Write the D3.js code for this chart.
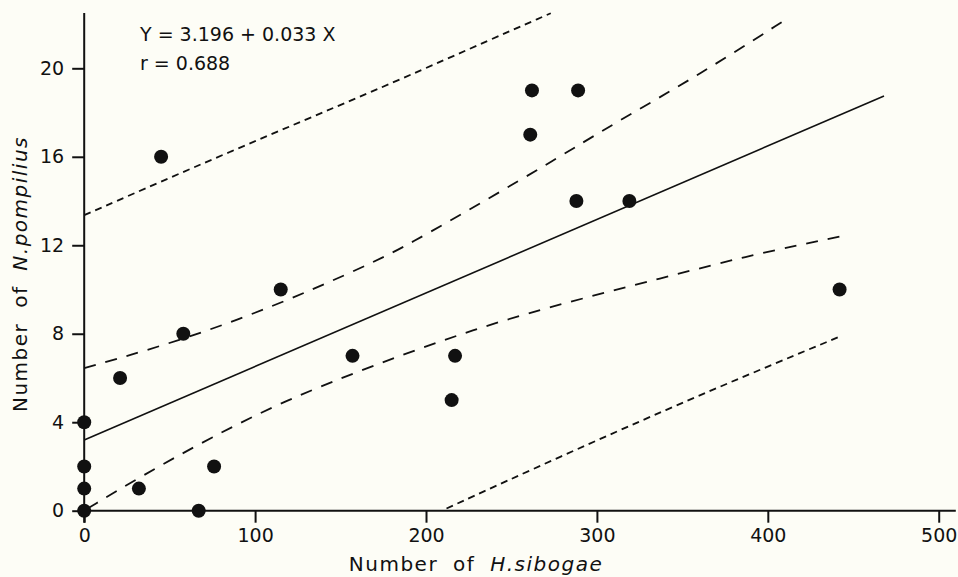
<!DOCTYPE html>
<html>
<head>
<meta charset="utf-8">
<script src="https://cdn.jsdelivr.net/npm/d3@7"></script>
<style>
  body { margin: 0; background: #fdfdf6; }
  svg { display: block; }
  text { font-family: "DejaVu Sans", sans-serif; fill: #111; }
  .tick line { stroke: #111; stroke-width: 2; }
  .tick text { font-size: 19px; }
</style>
</head>
<body>
<svg width="958" height="577"></svg>
<script>
// scatter points: number of H. sibogae vs number of N. pompilius
var sibogae   = [0, 0, 0, 0, 67, 32, 76, 21, 58, 45, 115, 157, 215, 217, 261, 262, 289, 288, 319, 442];
var pompilius = [0, 1, 2, 4, 0, 1, 2, 6, 8, 16, 10, 7, 5, 7, 17, 19, 19, 14, 14, 10];

// fitted line end points
var fitX = [0, 468];
var fitY = [3.2, 18.75];

// confidence band (long dashes)
var confUpX = [0, 46, 91, 134, 171, 189, 232, 275, 310, 345, 376, 410];
var confUpY = [6.45, 7.45, 8.65, 10.0, 11.3, 12.0, 13.9, 15.85, 17.5, 19.05, 20.5, 22.18];
var confLoX = [2, 33, 75, 118, 167, 220, 271, 340, 390, 442];
var confLoY = [0.1, 1.54, 3.35, 5.0, 6.5, 8.0, 9.2, 10.55, 11.56, 12.39];

// prediction band (short dashes)
var predUpX = [0, 85, 171, 224, 273];
var predUpY = [13.36, 16.23, 19.02, 20.83, 22.49];
var predLoX = [212, 280, 343, 390, 443];
var predLoY = [0.1, 2.5, 4.65, 6.2, 7.9];

var xTicks = [0, 100, 200, 300, 400, 500];
var yTicks = [0, 4, 8, 12, 16, 20];

var svg = d3.select("svg");

// scales
var x = d3.scaleLinear().domain([0, 510]).range([84.2, 955.8]);
var y = d3.scaleLinear().domain([0, 22.5]).range([510.7, 13]);

function pairs(xs, ys) {
  return xs.map(function(d, i) { return [d, ys[i]]; });
}

var line = d3.line()
  .x(function(d) { return x(d[0]); })
  .y(function(d) { return y(d[1]); });

var band = d3.line()
  .x(function(d) { return x(d[0]); })
  .y(function(d) { return y(d[1]); })
  .curve(d3.curveBasis);

// axes
svg.append("g").attr("transform", "translate(" + x(0) + ",0)")
  .call(d3.axisLeft(y).tickValues(yTicks).tickSize(12).tickPadding(8))
  .call(function(g) { g.select(".domain").remove(); });

svg.append("g").attr("transform", "translate(0," + y(0) + ")")
  .call(d3.axisBottom(x).tickValues(xTicks).tickSize(12).tickPadding(6))
  .call(function(g) { g.select(".domain").remove(); });

svg.append("line")
  .attr("x1", x(0)).attr("x2", x(0)).attr("y1", y(22.5)).attr("y2", y(0) + 12)
  .attr("stroke", "#111").attr("stroke-width", 2);
svg.append("line")
  .attr("x1", x(0) - 1).attr("x2", x(510)).attr("y1", y(0)).attr("y2", y(0))
  .attr("stroke", "#111").attr("stroke-width", 2);

// bands
[[confUpX, confUpY], [confLoX, confLoY]].forEach(function(b) {
  svg.append("path").datum(pairs(b[0], b[1]))
    .attr("d", band).attr("fill", "none")
    .attr("stroke", "#111").attr("stroke-width", 1.8)
    .attr("stroke-dasharray", "12,10");
});
[[predUpX, predUpY], [predLoX, predLoY]].forEach(function(b) {
  svg.append("path").datum(pairs(b[0], b[1]))
    .attr("d", band).attr("fill", "none")
    .attr("stroke", "#111").attr("stroke-width", 1.8)
    .attr("stroke-dasharray", "7,5");
});

// regression line
svg.append("path").datum(pairs(fitX, fitY))
  .attr("d", line).attr("fill", "none")
  .attr("stroke", "#111").attr("stroke-width", 1.6);

// points
svg.append("g").selectAll("circle").data(pairs(sibogae, pompilius)).enter().append("circle")
  .attr("cx", function(d) { return x(d[0]); })
  .attr("cy", function(d) { return y(d[1]); })
  .attr("r", 7)
  .attr("fill", "#111");

// equation
svg.append("text").attr("x", 140).attr("y", 41).style("font-size", "19px")
  .text("Y = 3.196 + 0.033 X");
svg.append("text").attr("x", 140).attr("y", 70).style("font-size", "19px")
  .text("r = 0.688");

// axis titles
var xt = svg.append("text").attr("x", 476).attr("y", 571)
  .attr("text-anchor", "middle").style("font-size", "20px")
  .style("letter-spacing", "1.5px").style("word-spacing", "7px");
xt.append("tspan").text("Number of ");
xt.append("tspan").style("font-style", "italic").text("H.sibogae");

var yt = svg.append("text").attr("transform", "translate(27,274) rotate(-90)")
  .attr("text-anchor", "middle").style("font-size", "20px")
  .style("letter-spacing", "1.5px").style("word-spacing", "7px");
yt.append("tspan").text("Number of ");
yt.append("tspan").style("font-style", "italic").text("N.pompilius");
</script>
</body>
</html>
